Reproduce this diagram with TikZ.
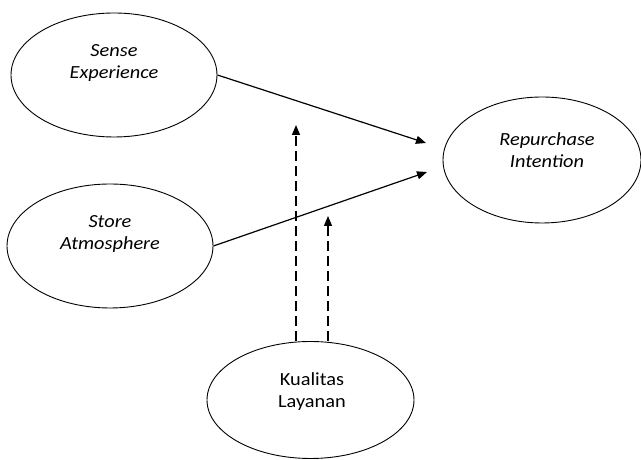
\documentclass[tikz,border=0pt]{standalone}
\usepackage{fontspec}
\setmainfont{Carlito}[FakeStretch=1.1]
\usetikzlibrary{shapes.geometric,arrows.meta}
\begin{document}
\begin{tikzpicture}[x=1pt,y=1pt,
  oval/.style={draw,ellipse,line width=0.9pt,inner sep=0pt},
  lbl/.style={align=center,inner sep=0pt,font=\fontsize{18.5}{22}\selectfont\itshape},
  lblup/.style={align=center,inner sep=0pt,font=\fontsize{18.5}{22}\selectfont},
  solidarrow/.style={line width=1.2pt,-{Triangle[length=10pt,width=8pt]}},
  dasharrow/.style={line width=1.2pt,dash pattern=on 10pt off 5pt,-{Triangle[length=10pt,width=8pt]}}]
\useasboundingbox (0,0) rectangle (641,460);
\fill[white] (0,0) rectangle (641,460);
\node[oval,minimum width=206pt,minimum height=124pt] (se) at (114,385) {};
\node[oval,minimum width=206pt,minimum height=124pt] (sa) at (110,214) {};
\node[oval,minimum width=198pt,minimum height=126pt] (ri) at (542,300) {};
\node[oval,minimum width=207pt,minimum height=117pt] (kl) at (310.5,60) {};
\node[lbl] (setxt) at (114,397) {Sense\\Experience};
\node[lbl] (satxt) at (110,225.5) {Store\\Atmosphere};
\node[lbl] (ritxt) at (547,309.5) {Repurchase\\Intention};
\node[lblup] (kltxt) at (312,68.5) {Kualitas\\Layanan};
\coordinate (t1) at (426,317);
\coordinate (t2) at (427,288);
\coordinate (d1) at (296,335);
\coordinate (d2) at (328,244);
\draw[solidarrow] (se.east) -- (t1);
\draw[solidarrow] (sa.east) -- (t2);
\draw[dasharrow] (d1 |- kl.north) -- (d1);
\draw[dasharrow] (d2 |- kl.north) -- (d2);
\end{tikzpicture}
\end{document}
